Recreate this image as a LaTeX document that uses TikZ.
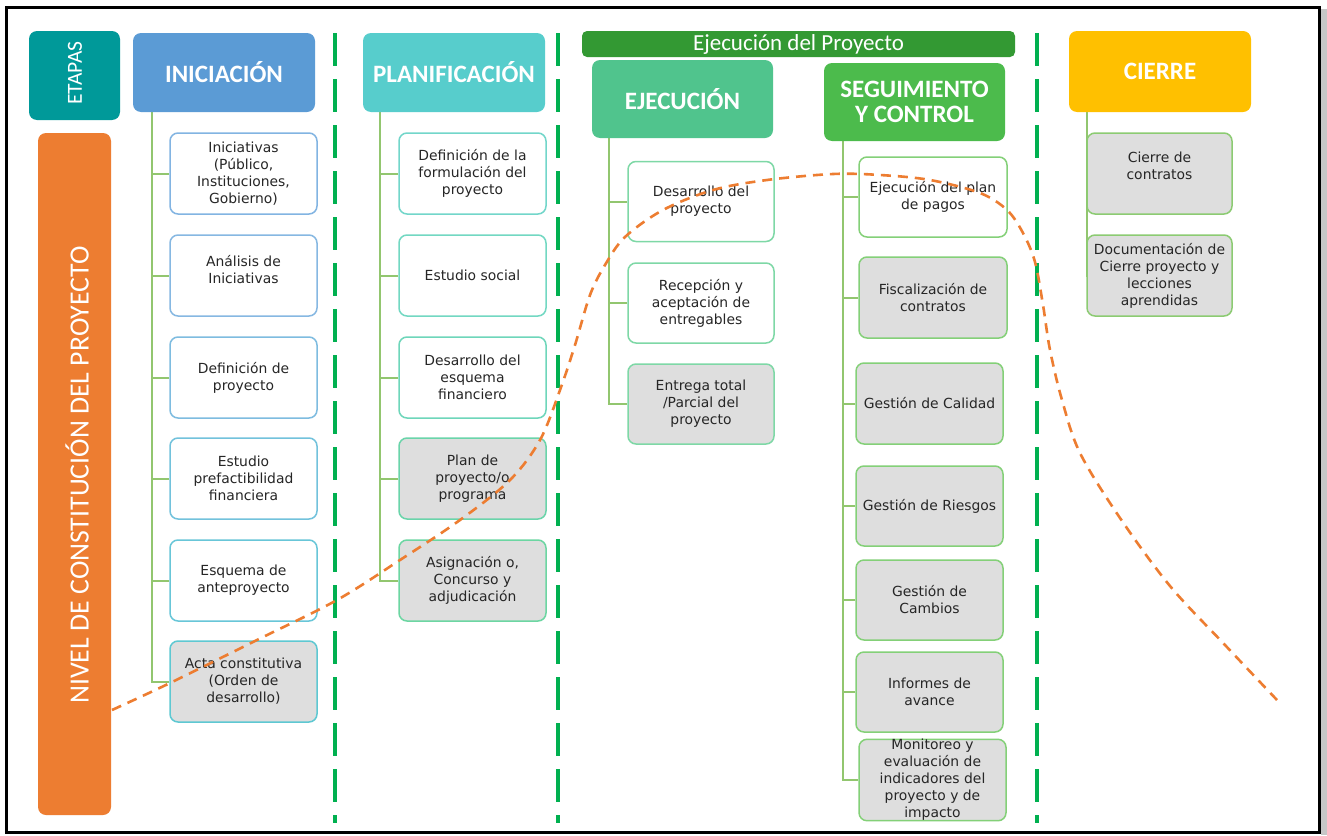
\documentclass[tikz,border=0pt]{standalone}
\usepackage{fontspec}
\setmainfont{DejaVu Sans}
\newfontfamily\carl{Carlito}
\definecolor{cEt}{HTML}{009999}
\definecolor{cOr}{HTML}{ED7D31}
\definecolor{cIni}{HTML}{5B9BD5}
\definecolor{cPla}{HTML}{57CDCC}
\definecolor{cBar}{HTML}{339933}
\definecolor{cEj}{HTML}{50C48D}
\definecolor{cSeg}{HTML}{4CBB4C}
\definecolor{cCie}{HTML}{FFC000}
\definecolor{gfill}{HTML}{DEDEDE}
\definecolor{txt}{HTML}{262626}
\definecolor{treec}{HTML}{92C66F}
\definecolor{dgreen}{HTML}{00B050}
\definecolor{ba}{HTML}{82B4E2}
\definecolor{bb}{HTML}{86B8E2}
\definecolor{bc}{HTML}{7EBCE0}
\definecolor{bd}{HTML}{72C2DC}
\definecolor{be}{HTML}{68C6D8}
\definecolor{bf}{HTML}{5EC8D2}
\definecolor{pa}{HTML}{72D6CA}
\definecolor{pb}{HTML}{72D8C2}
\definecolor{pc}{HTML}{6ED6BA}
\definecolor{pd}{HTML}{6AD4AA}
\definecolor{pe}{HTML}{6CD6A2}
\definecolor{ej}{HTML}{7ED8A6}
\definecolor{sg}{HTML}{84D078}
\definecolor{ci}{HTML}{8CCB72}
\pgfdeclarelayer{bg}
\pgfsetlayers{bg,main}
\tikzset{
  hdr/.style={rounded corners=8pt, text=white, align=center, inner sep=0pt,
    font=\carl\bfseries\fontsize{25}{25}\selectfont},
  bx/.style={draw, line width=1.5pt, rounded corners=8pt, fill=white, align=center,
    inner sep=0pt, text=txt, font=\fontsize{13.9}{17}\selectfont},
  gr/.style={fill=gfill},
  colA/.style={bx, minimum width=147pt, minimum height=81pt},
  colB/.style={bx, minimum width=147pt, minimum height=81pt},
  colC/.style={bx, draw=ej, minimum width=146pt, minimum height=80pt},
  colD/.style={bx, draw=sg, minimum width=147pt, minimum height=80pt},
  colE/.style={bx, draw=ci, minimum width=145pt, minimum height=81pt},
  treeline/.style={draw=treec, line width=2pt},
  sep/.style={draw=dgreen, line width=4pt, dash pattern=on 33pt off 13pt},
  curve/.style={draw=cOr, line width=2.6pt, dash pattern=on 10pt off 7pt}
}
\begin{document}
\begin{tikzpicture}[x=1pt,y=-1pt]
\useasboundingbox (0,0) rectangle (1327,835);
% frame
\fill[black!22] (1321,9) rectangle (1327,835);
\draw[line width=3pt] (6.5,7.5) rectangle (1319.5,832.5);

% separators
\coordinate (d1a) at (335,33); \coordinate (d1b) at (335,823);
\coordinate (d2a) at (558,33); \coordinate (d2b) at (558,823);
\coordinate (d3a) at (1037,33); \coordinate (d3b) at (1037,823);
\draw[sep] (d1a) -- (d1b);
\draw[sep] (d2a) -- (d2b);
\draw[sep] (d3a) -- (d3b);

% headers
\node[hdr, fill=cEt, minimum width=91pt, minimum height=89pt] (etapas) at (74.5,75.5) {};
\node[rotate=90, text=white, font=\carl\fontsize{21.5}{21.5}\selectfont] (etapastxt) at (75,73) {ETAPAS};
\node[hdr, fill=cOr, minimum width=73pt, minimum height=682pt] (nivel) at (74.5,474) {};
\node[rotate=90, text=white, font=\carl\fontsize{27.8}{27.8}\selectfont] (niveltxt) at (77,475) {NIVEL DE CONSTITUCIÓN DEL PROYECTO};
\node[hdr, fill=cIni, minimum width=182pt, minimum height=79pt] (ini) at (224,72.5) {INICIACIÓN};
\node[hdr, fill=cPla, minimum width=182pt, minimum height=79pt] (pla) at (454,72.5) {PLANIFICACIÓN};
\node[hdr, fill=cBar, rounded corners=5pt, minimum width=433pt, minimum height=26pt,
  font=\carl\fontsize{23}{23}\selectfont] (bar) at (798.5,44) {Ejecución del Proyecto};
\node[hdr, fill=cEj, minimum width=181pt, minimum height=78pt] (eje) at (682.5,99) {EJECUCIÓN};
\node[hdr, fill=cSeg, minimum width=181pt, minimum height=78pt] (seg) at (914.5,102) {SEGUIMIENTO\\Y CONTROL};
\node[hdr, fill=cCie, minimum width=182pt, minimum height=81pt] (cie) at (1160,71.5) {CIERRE};

% column 1
\node[colA, draw=ba] (i1) at (243.5,173.5) {Iniciativas\\(Público,\\Instituciones,\\Gobierno)};
\node[colA, draw=bb] (i2) at (243.5,275.5) {Análisis de\\Iniciativas\\[-4pt]};
\node[colA, draw=bc] (i3) at (243.5,377.5) {Definición de\\proyecto};
\node[colA, draw=bd] (i4) at (243.5,478.5) {Estudio\\prefactibilidad\\financiera};
\node[colA, draw=be] (i5) at (243.5,580.5) {Esquema de\\anteproyecto};
\node[colA, draw=bf, gr] (i6) at (243.5,681.5) {Acta constitutiva\\(Orden de\\desarrollo)};

% column 2
\node[colB, draw=pa] (p1) at (472.5,173.5) {Definición de la\\formulación del\\proyecto};
\node[colB, draw=pb] (p2) at (472.5,275.5) {Estudio social};
\node[colB, draw=pc] (p3) at (472.5,377.5) {Desarrollo del\\esquema\\financiero};
\node[colB, draw=pd, gr] (p4) at (472.5,478.5) {Plan de\\proyecto/o\\programa};
\node[colB, draw=pe, gr] (p5) at (472.5,580.5) {Asignación o,\\Concurso y\\adjudicación};

% column 3
\node[colC] (e1) at (701,201.5) {Desarrollo del\\proyecto};
\node[colC] (e2) at (701,303) {Recepción y\\aceptación de\\entregables};
\node[colC, gr] (e3) at (701,404) {Entrega total\\/Parcial del\\proyecto};

% column 4
\node[colD, minimum width=148pt] (s1) at (933,197) {Ejecución del plan\\de pagos};
\node[colD, minimum width=148pt, minimum height=81pt, gr] (s2) at (933,297.5) {Fiscalización de\\contratos};
\node[colD, minimum height=81pt, gr] (s3) at (929.5,403.5) {Gestión de Calidad};
\node[colD, gr] (s4) at (929.5,506) {Gestión de Riesgos};
\node[colD, gr] (s5) at (929.5,600) {Gestión de\\Cambios};
\node[colD, gr] (s6) at (929.5,692) {Informes de\\avance};
\node[colD, gr] (s7) at (932.5,780) {Monitoreo y\\evaluación de\\indicadores del\\proyecto y de\\impacto};

% column 5
\node[colE, gr] (c1) at (1159.5,173.5) {Cierre de\\contratos\\[-2pt]};
\node[colE, gr] (c2) at (1159.5,275.5) {Documentación de\\Cierre proyecto y\\lecciones\\aprendidas};

% tree connectors
\coordinate (t1) at (152,112);
\coordinate (t2) at (380,112);
\coordinate (t3) at (609,138);
\coordinate (t4) at (843,141);
\coordinate (t5) at (1087,112);
\begin{pgfonlayer}{bg}
\fill[white] (0,0) rectangle (1320,835);
\foreach \n in {i1,i2,i3,i4,i5,i6} \draw[treeline] (\n.west) -| (t1);
\foreach \n in {p1,p2,p3,p4,p5} \draw[treeline] (\n.west) -| (t2);
\foreach \n in {e1,e2,e3} \draw[treeline] (\n.west) -| (t3);
\foreach \n in {s1,s2,s3,s4,s5,s6,s7} \draw[treeline] (\n.west) -| (t4);
\draw[treeline] (c2.west) -| (t5);
\end{pgfonlayer}

% level curve
\draw[curve] plot[smooth, tension=0.55] coordinates {(112,710) (170,683) (257,640) (337,600) (400,560) (460,520) (510,480) (540,440) (560,390) (575,345) (590,295) (605,265) (625,237) (663,210) (713,190) (767,180) (833,174) (880,175) (930,180) (980,193) (1007,210) (1023,233) (1035,262) (1043,305) (1050,350) (1062,400) (1080,453) (1120,518) (1170,586) (1225,645) (1277,700)};
\end{tikzpicture}
\end{document}
